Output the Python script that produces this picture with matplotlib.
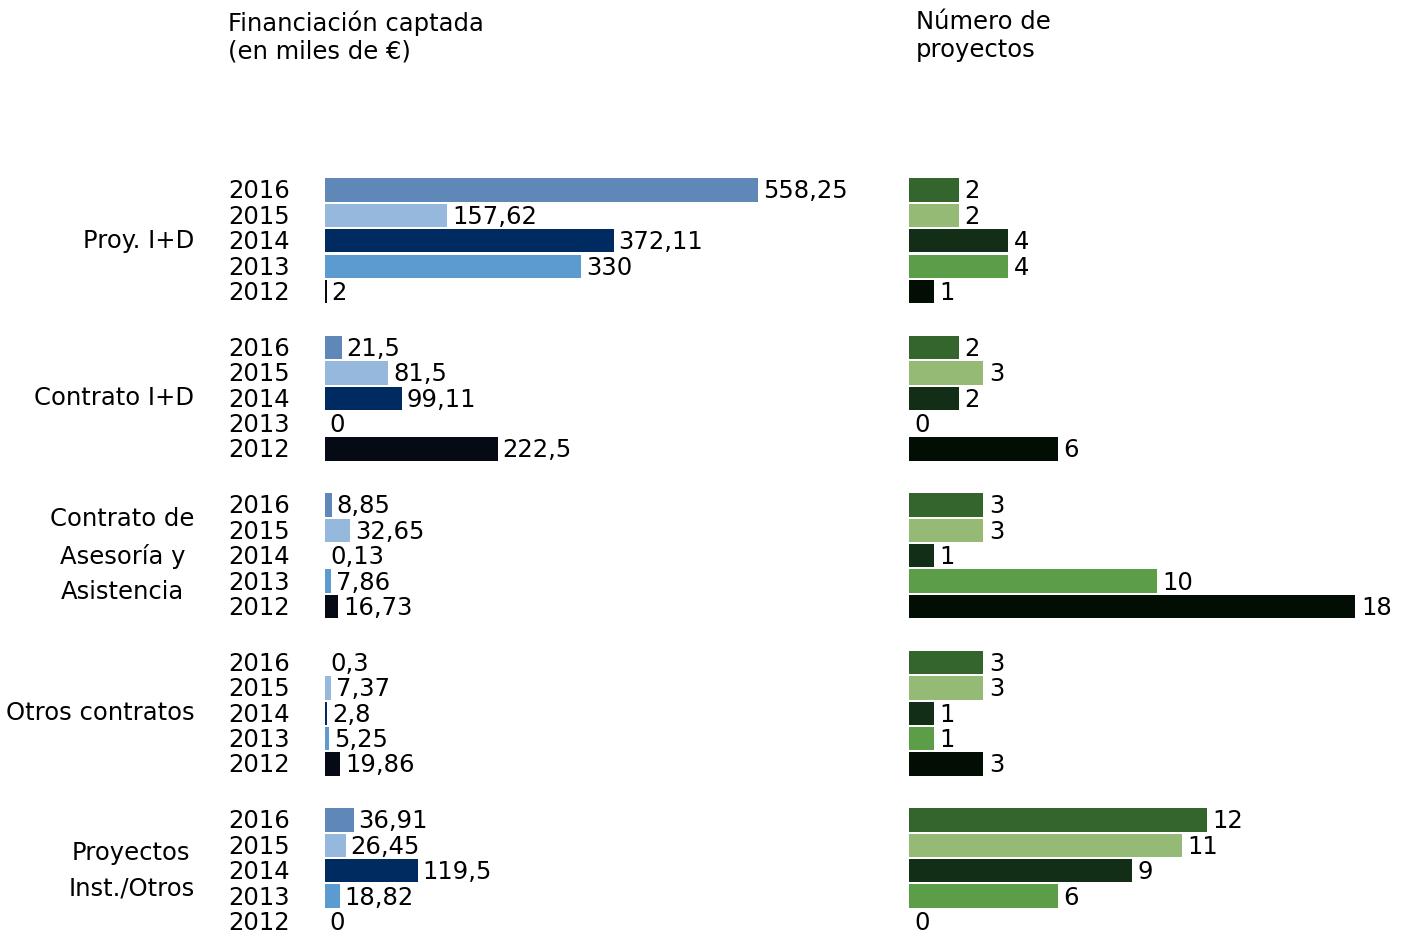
import numpy as np
import matplotlib.pyplot as plt

# Data
categorias = ["Proy. I+D", "Contrato I+D", "Contrato de\nAsesoría y\nAsistencia",
              "Otros contratos", "Proyectos\nInst./Otros"]
anios = ["2016", "2015", "2014", "2013", "2012"]

# financiacion[categoria][anio] in miles de euros (2016..2012)
financiacion = [
    [558.25, 157.62, 372.11, 330, 2],
    [21.5, 81.5, 99.11, 0, 222.5],
    [8.85, 32.65, 0.13, 7.86, 16.73],
    [0.3, 7.37, 2.8, 5.25, 19.86],
    [36.91, 26.45, 119.5, 18.82, 0],
]
financiacion_txt = [
    ["558,25", "157,62", "372,11", "330", "2"],
    ["21,5", "81,5", "99,11", "0", "222,5"],
    ["8,85", "32,65", "0,13", "7,86", "16,73"],
    ["0,3", "7,37", "2,8", "5,25", "19,86"],
    ["36,91", "26,45", "119,5", "18,82", "0"],
]
proyectos = [
    [2, 2, 4, 4, 1],
    [2, 3, 2, 0, 6],
    [3, 3, 1, 10, 18],
    [3, 3, 1, 1, 3],
    [12, 11, 9, 6, 0],
]

colores_fin = ["#5f87b8", "#95b8dc", "#002b60", "#5b9bd0", "#050a14"]
colores_proy = ["#33652d", "#95ba76", "#122e16", "#5c9d47", "#020e04"]

plt.rcParams['font.family'] = ['DejaVu Sans']
fs = 17.5

fig = plt.figure(figsize=(14.09, 9.36), dpi=100)
W, H = 1409, 936

# layout in slot units (one slot = one bar)
px_slot = 25.4
gap_grupo = 6.2
y0_px = 190
ylim = ((H - y0_px) / px_slot, -y0_px / px_slot)

ax1 = fig.add_axes([325 / W, 0, 575 / W, 1])
ax2 = fig.add_axes([909 / W, 0, 500 / W, 1])
ax1.set_xlim(0, 575 / 0.7757)
ax2.set_xlim(0, 500 / 24.8)
for ax in (ax1, ax2):
    ax.set_ylim(*ylim)
    ax.axis('off')

for g, cat in enumerate(categorias):
    pos = g * gap_grupo + np.arange(len(anios))
    ax1.barh(pos, financiacion[g], height=0.92, color=colores_fin)
    ax2.barh(pos, proyectos[g], height=0.92, color=colores_proy)
    for i in range(len(anios)):
        ax1.annotate(financiacion_txt[g][i], (financiacion[g][i], pos[i]),
                     xytext=(3.5, -1), textcoords='offset points',
                     va='center', ha='left', fontsize=fs)
        ax2.annotate(str(proyectos[g][i]), (proyectos[g][i], pos[i]),
                     xytext=(4, -1), textcoords='offset points',
                     va='center', ha='left', fontsize=fs)
        # year labels
        ax1.annotate(anios[i], (0, pos[i]), xytext=(-25, -1), textcoords='offset points',
                     va='center', ha='right', fontsize=fs)
    # category label
    ax1.annotate(cat, (0, pos[2]), xytext=(-94, 0), textcoords='offset points',
                 va='center', ha='right', multialignment='center',
                 fontsize=fs, linespacing=1.62)

fig.text(228 / W, 1 - 10 / H, "Financiación captada\n(en miles de €)",
         ha='left', va='top', fontsize=fs, linespacing=1.2)
fig.text(916 / W, 1 - 10 / H, "Número de\nproyectos",
         ha='left', va='top', fontsize=fs, linespacing=1.2)

fig.savefig("out.png", dpi=100)
